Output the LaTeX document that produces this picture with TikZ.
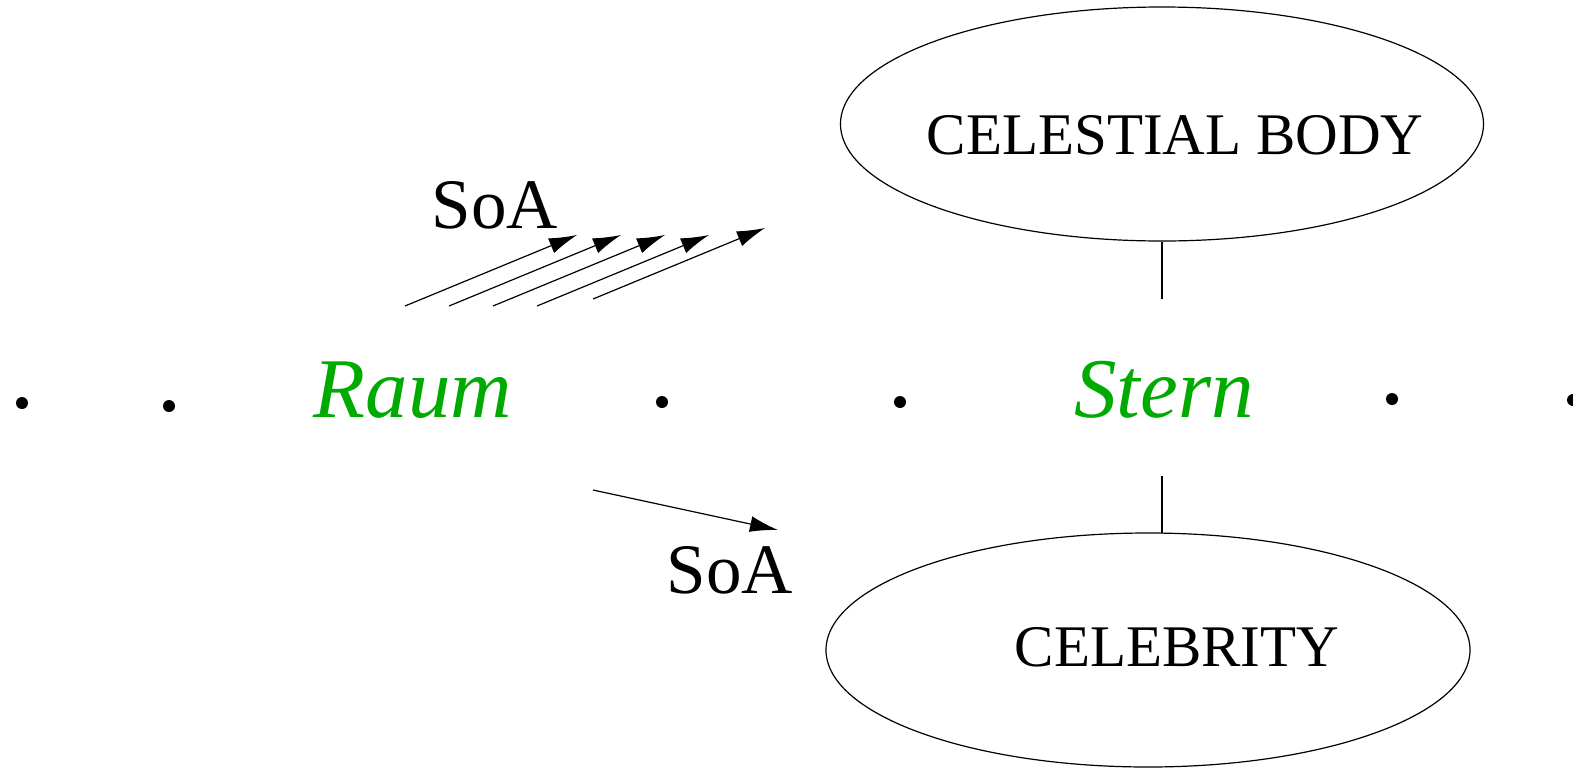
\documentclass[tikz,border=0pt]{standalone}
\usepackage{fontspec}
\setmainfont{Liberation Serif}
\usetikzlibrary{arrows.meta}
\definecolor{wordgreen}{RGB}{0,170,0}
\begin{document}
\begin{tikzpicture}[x=1pt,y=-1pt,
  line width=1.2pt,
  arr/.style={-{Latex[length=28pt,width=16pt]}},
  dotnode/.style={circle,fill=black,inner sep=0pt,minimum size=12pt},
  word/.style={text=wordgreen,font=\fontsize{85}{88}\selectfont\itshape,inner sep=0pt},
  concepttext/.style={font=\fontsize{59}{61}\selectfont,inner sep=0pt},
  lab/.style={font=\fontsize{71}{73}\selectfont,inner sep=0pt}]
\useasboundingbox (0,0) rectangle (1573,769);
% dots
\node[dotnode] (d1) at (22,403) {};
\node[dotnode] (d2) at (169,406) {};
\node[dotnode] (d3) at (662,402) {};
\node[dotnode] (d4) at (900,402) {};
\node[dotnode] (d5) at (1392,399) {};
\node[dotnode] (d6) at (1573,400) {};
% words
\node[word] (raum) at (413,390) {Raum};
\node[word] (stern) at (1164,390) {Stern};
% ellipses
\draw (1162,124) ellipse [x radius=321.5, y radius=117];
\node[inner sep=0pt,minimum width=643pt,minimum height=234pt] (cb) at (1162,124) {};
\node[concepttext] (cbt) at (1175,135) {CELESTIAL BODY};
\draw (1148,650) ellipse [x radius=322, y radius=117];
\node[inner sep=0pt,minimum width=644pt,minimum height=234pt] (ce) at (1148,650) {};
\node[concepttext] (cet) at (1177,647) {CELEBRITY};
% vertical connectors
\coordinate (s1) at (1162,299);
\coordinate (s2) at (1162,476);
\coordinate (ceTop) at (1162,533);
\draw (cb.south) -- (s1);
\draw (s2) -- (ceTop);
% SoA labels
\node[lab] (soa1) at (495,205) {SoA};
\node[lab] (soa2) at (730,570) {SoA};
% arrows
\coordinate (a1s) at (405,306); \coordinate (a1e) at (577,235);
\coordinate (a2s) at (449,306); \coordinate (a2e) at (621,235);
\coordinate (a3s) at (493,306); \coordinate (a3e) at (665,235);
\coordinate (a4s) at (537,306); \coordinate (a4e) at (709,235);
\coordinate (a5s) at (593,299); \coordinate (a5e) at (765,228);
\coordinate (b1s) at (593,490); \coordinate (b1e) at (778,530);
\foreach \i in {1,...,5} {\draw[arr] (a\i s) -- (a\i e);}
\draw[arr] (b1s) -- (b1e);
\end{tikzpicture}
\end{document}
